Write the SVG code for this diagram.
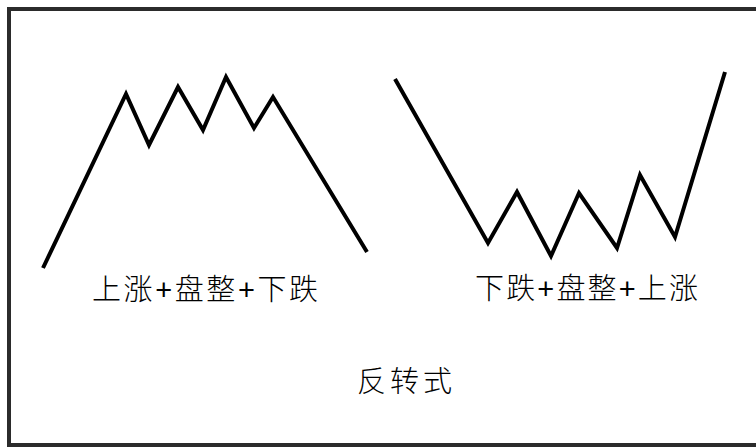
<svg xmlns="http://www.w3.org/2000/svg" width="756" height="448" viewBox="0 0 756 448">
<style>
.frame{fill:#fff;stroke:#2b2b2b;stroke-width:4}
.line{fill:none;stroke:#000;stroke-width:4;stroke-linejoin:miter;stroke-linecap:butt}
.lbl{font-family:"Liberation Sans","Noto Sans CJK SC",sans-serif;font-size:29px;font-weight:300;fill:#000}
</style>
<rect width="756" height="448" fill="#fff"/>
<rect class="frame" x="9" y="9" width="760" height="436"/>
<g id="connectors">
<polyline id="top-pattern" class="line" points="43,268 126,94 149,145 178,87 203,130 226,77 254,128 273,97 367,252"/>
<polyline id="bottom-pattern" class="line" points="395,79 488,243 517,192 551,256 579,193 617,248 640,175 675,237 725,72"/>
</g>
<g id="label-left"><text class="lbl" x="92" y="300" textLength="226" lengthAdjust="spacing">上涨+盘整+下跌</text></g>
<g id="label-right"><text class="lbl" x="475" y="299" textLength="223" lengthAdjust="spacing">下跌+盘整+上涨</text></g>
<g id="label-bottom"><text class="lbl" x="357" y="392" textLength="95" lengthAdjust="spacing">反转式</text></g>
</svg>
